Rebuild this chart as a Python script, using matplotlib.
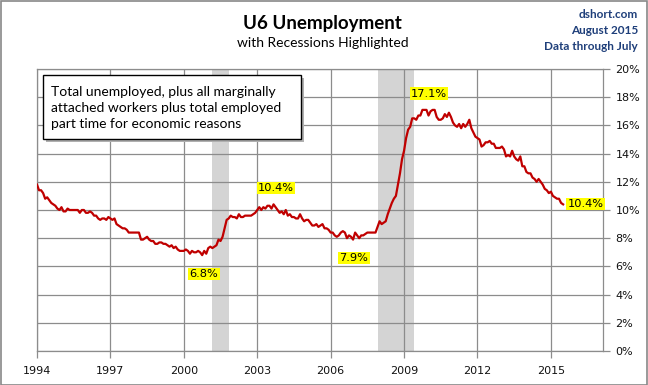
import matplotlib
matplotlib.use("Agg")
import matplotlib.pyplot as plt
import numpy as np
from matplotlib.patches import Rectangle

# monthly U6 rate, Jan 1994 .. Jul 2015
U6_BY_YEAR = {
    1994: [11.8, 11.4, 11.4, 11.2, 10.8, 10.9, 10.7, 10.5, 10.4, 10.3, 10.1, 10.0],
    1995: [10.2, 9.9, 9.9, 10.1, 10.0, 10.0, 10.0, 10.0, 10.0, 9.8, 10.0, 10.0],
    1996: [9.8, 9.8, 9.9, 9.8, 9.6, 9.6, 9.4, 9.3, 9.4, 9.4, 9.3, 9.5],
    1997: [9.4, 9.3, 9.4, 9.0, 8.9, 8.8, 8.7, 8.7, 8.6, 8.4, 8.4, 8.4],
    1998: [8.4, 8.4, 8.4, 7.9, 7.9, 8.0, 8.1, 7.9, 7.8, 7.8, 7.6, 7.6],
    1999: [7.7, 7.7, 7.6, 7.6, 7.5, 7.4, 7.5, 7.3, 7.4, 7.2, 7.1, 7.1],
    2000: [7.1, 7.2, 7.1, 6.9, 7.1, 7.0, 7.0, 7.1, 7.0, 6.8, 7.1, 6.9],
    2001: [7.3, 7.4, 7.3, 7.4, 7.5, 7.9, 7.8, 8.1, 8.7, 9.3, 9.4, 9.6],
    2002: [9.5, 9.5, 9.4, 9.7, 9.5, 9.5, 9.6, 9.6, 9.6, 9.6, 9.7, 9.8],
    2003: [10.0, 10.2, 10.0, 10.2, 10.1, 10.3, 10.3, 10.1, 10.4, 10.2, 10.0, 9.8],
    2004: [9.9, 9.7, 10.0, 9.6, 9.7, 9.5, 9.5, 9.4, 9.4, 9.7, 9.4, 9.2],
    2005: [9.3, 9.3, 9.1, 8.9, 8.9, 9.0, 8.8, 8.9, 9.0, 8.7, 8.7, 8.6],
    2006: [8.4, 8.4, 8.2, 8.1, 8.2, 8.4, 8.5, 8.4, 8.0, 8.2, 8.1, 7.9],
    2007: [8.4, 8.2, 8.0, 8.2, 8.2, 8.3, 8.4, 8.4, 8.4, 8.4, 8.4, 8.8],
    2008: [9.2, 9.0, 9.1, 9.2, 9.7, 10.1, 10.5, 10.8, 11.0, 11.8, 12.6, 13.6],
    2009: [14.2, 15.1, 15.7, 15.9, 16.5, 16.5, 16.4, 16.7, 16.7, 17.1, 17.1, 17.1],
    2010: [16.7, 17.0, 17.1, 17.1, 16.6, 16.4, 16.4, 16.5, 16.8, 16.6, 16.9, 16.6],
    2011: [16.2, 16.0, 15.9, 16.1, 15.8, 16.1, 15.9, 16.1, 16.4, 15.8, 15.5, 15.2],
    2012: [15.1, 15.0, 14.5, 14.6, 14.8, 14.8, 14.9, 14.7, 14.7, 14.4, 14.4, 14.4],
    2013: [14.5, 14.3, 13.8, 13.9, 13.8, 14.2, 13.8, 13.6, 13.5, 13.8, 13.1, 13.1],
    2014: [12.7, 12.6, 12.6, 12.3, 12.2, 12.0, 12.2, 12.0, 11.8, 11.5, 11.4, 11.2],
    2015: [11.3, 11.0, 10.9, 10.8, 10.8, 10.5, 10.4],
}

recessions = [(2001 + 2 / 12, 2001 + 10 / 12), (2007 + 11 / 12, 2009 + 5 / 12)]
tick_years = [1994, 1997, 2000, 2003, 2006, 2009, 2012, 2015]
y_ticks = list(range(0, 21, 2))

# labels: text, x, y
callouts = [
    ("17.1%", 2010.02, 18.26),
    ("10.4%", 2003.77, 11.56),
    ("6.8%", 2000.82, 5.46),
    ("7.9%", 2006.95, 6.6),
    ("10.4%", 2016.41, 10.43),
]

note = "Total unemployed, plus all marginally\nattached workers plus total employed\npart time for economic reasons"

dates = []
values = []
for year, months in U6_BY_YEAR.items():
    for i, v in enumerate(months):
        dates.append(year + i / 12)
        values.append(v)
dates = np.array(dates)
values = np.array(values)

W, H = 648, 385
fig = plt.figure(figsize=(W / 100, H / 100), dpi=100)
ax = fig.add_axes([37 / W, 1 - 351 / H, (603 - 37) / W, (351 - 69) / H])

grid_c = "#8c8c8c"
for a, b in recessions:
    ax.axvspan(a, b, color="#d4d4d4", lw=0, zorder=1)
for y in y_ticks:
    ax.axhline(y, color=grid_c, lw=0.9, zorder=2)
for x in tick_years:
    ax.axvline(x, color=grid_c, lw=0.9, zorder=2)

ax.plot(dates, values, color="#c00000", lw=1.6, zorder=3)

for txt, x, y in callouts:
    ax.text(x, y, txt, ha="center", va="center", fontsize=8.2, family="DejaVu Sans",
            zorder=5, bbox=dict(boxstyle="square,pad=0.12", fc="#ffff00", ec="none"))

ax.set_xlim(1994, 2017.13)
ax.set_ylim(0, 20)
ax.set_xticks(tick_years)
ax.set_xticklabels([str(t) for t in tick_years])
ax.set_yticks(y_ticks)
ax.set_yticklabels([f"{t}%" for t in y_ticks])
ax.yaxis.tick_right()
ax.tick_params(axis="both", labelsize=8, labelcolor="#111111", color=grid_c,
               length=5, width=0.9, pad=4)
ax.tick_params(axis="x", pad=6)
for s in ax.spines.values():
    s.set_color(grid_c)
    s.set_linewidth(0.9)

# note box with shadow
bx0, by0, bx1, by1 = 43, 75, 301, 139
shadow = Rectangle(((bx0 + 3) / W, 1 - (by1 + 3) / H), (bx1 - bx0) / W, (by1 - by0) / H,
                   transform=fig.transFigure, fc="#b0b0b0", ec="none", zorder=6)
box = Rectangle((bx0 / W, 1 - by1 / H), (bx1 - bx0) / W, (by1 - by0) / H,
                transform=fig.transFigure, fc="white", ec="black", lw=1.0, zorder=7)
fig.add_artist(shadow)
fig.add_artist(box)
fig.text(51 / W, 1 - 107.5 / H, note, ha="left", va="center", fontsize=10, family="Lato",
         linespacing=1.4, zorder=8)

fig.text(322 / W, 1 - 23 / H, "U6 Unemployment", ha="center", va="center",
         fontsize=13.5, fontweight="bold", family="Lato")
fig.text(323 / W, 1 - 43 / H, "with Recessions Highlighted", ha="center", va="center",
         fontsize=10, family="Lato")
blue = "#1f3f7a"
for i, line in enumerate(["dshort.com", "August 2015", "Data through July"]):
    fig.text(638 / W, 1 - (15 + 16 * i) / H, line, ha="right", va="center",
             fontsize=8.5, fontweight="bold", family="Lato", color=blue)

fig.add_artist(Rectangle((0.5 / W, 0.5 / H), 1 - 1.5 / W, 1 - 1.5 / H,
                         transform=fig.transFigure, fc="none", ec="#888888", lw=1.2))

fig.savefig("out.png", dpi=100)
